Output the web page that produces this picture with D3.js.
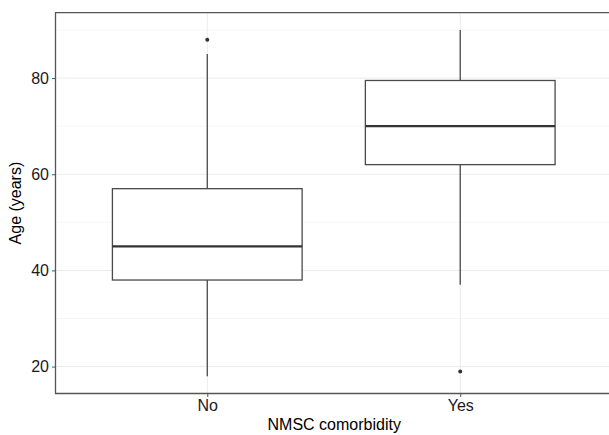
<!DOCTYPE html>
<html>
<head>
<meta charset="utf-8">
<script src="https://cdn.jsdelivr.net/npm/d3@7"></script>
<style>
  body { margin: 0; background: #fff; overflow: hidden; }
  text { font-family: "Liberation Sans", Arial, Helvetica, sans-serif; }
</style>
</head>
<body>
<svg id="chart" width="609" height="435"></svg>
<script>
/************************************ Data *******************************/
var groups = ["No", "Yes"];
var lowerWhisker = [18, 37];
var q1 = [38, 62];
var median = [45, 70];
var q3 = [57, 79.5];
var upperWhisker = [85, 90];
var outliers = [[88], [19]];
var yTicks = [20, 40, 60, 80];
var yMinor = [30, 50, 70, 90];

/************************************ Layout *******************************/
var panel = { left: 55.5, top: 12.7, right: 612, bottom: 393.5 };
var ink = "#4a4a4a";

var svg = d3.select("#chart");

var x = d3.scalePoint()
	.domain(groups)
	.range([panel.left, panel.right])
	.padding(0.6);

var y = d3.scaleLinear()
	.domain([14.4, 93.6])
	.range([panel.bottom, panel.top]);

var boxW = x.step() * 0.75;

// grid
var grid = svg.append("g");
grid.selectAll(".minor").data(yMinor).enter().append("line")
	.attr("x1", panel.left).attr("x2", panel.right)
	.attr("y1", function(d){ return y(d); }).attr("y2", function(d){ return y(d); })
	.attr("stroke", "#f4f4f4").attr("stroke-width", 0.8);
grid.selectAll(".major").data(yTicks).enter().append("line")
	.attr("x1", panel.left).attr("x2", panel.right)
	.attr("y1", function(d){ return y(d); }).attr("y2", function(d){ return y(d); })
	.attr("stroke", "#ebebeb").attr("stroke-width", 1);
grid.selectAll(".vmajor").data(groups).enter().append("line")
	.attr("y1", panel.top).attr("y2", panel.bottom)
	.attr("x1", function(d){ return x(d); }).attr("x2", function(d){ return x(d); })
	.attr("stroke", "#ebebeb").attr("stroke-width", 1);

/************************************ Boxes *******************************/
var boxes = svg.append("g").selectAll("g").data(groups).enter().append("g");

boxes.append("line")
	.attr("x1", function(d){ return x(d); }).attr("x2", function(d){ return x(d); })
	.attr("y1", function(d, i){ return y(upperWhisker[i]); })
	.attr("y2", function(d, i){ return y(q3[i]); })
	.attr("stroke", ink).attr("stroke-width", 1.3);
boxes.append("line")
	.attr("x1", function(d){ return x(d); }).attr("x2", function(d){ return x(d); })
	.attr("y1", function(d, i){ return y(q1[i]); })
	.attr("y2", function(d, i){ return y(lowerWhisker[i]); })
	.attr("stroke", ink).attr("stroke-width", 1.3);
boxes.append("rect")
	.attr("x", function(d){ return x(d) - boxW / 2; })
	.attr("width", boxW)
	.attr("y", function(d, i){ return y(q3[i]); })
	.attr("height", function(d, i){ return y(q1[i]) - y(q3[i]); })
	.attr("fill", "#fff").attr("stroke", ink).attr("stroke-width", 1.3);
boxes.append("line")
	.attr("x1", function(d){ return x(d) - boxW / 2; })
	.attr("x2", function(d){ return x(d) + boxW / 2; })
	.attr("y1", function(d, i){ return y(median[i]); })
	.attr("y2", function(d, i){ return y(median[i]); })
	.attr("stroke", "#333").attr("stroke-width", 2.2);
boxes.each(function(d, i){
	d3.select(this).selectAll("circle").data(outliers[i]).enter().append("circle")
		.attr("cx", x(d)).attr("cy", function(v){ return y(v); })
		.attr("r", 2).attr("fill", "#333");
});

/************************************ Axes *******************************/
// panel border: left, top, bottom (right edge falls outside the picture)
svg.append("path")
	.attr("d", "M" + (panel.right + 5) + "," + panel.top + "H" + panel.left + "V" + panel.bottom + "H" + (panel.right + 5))
	.attr("fill", "none").attr("stroke", "#555").attr("stroke-width", 1.3);

var yAxis = svg.append("g")
	.attr("transform", "translate(" + panel.left + ",0)")
	.call(d3.axisLeft(y).tickValues(yTicks).tickSize(3.5).tickPadding(3).tickFormat(d3.format("d")));
yAxis.select(".domain").remove();
yAxis.selectAll("line").attr("stroke", "#555");
yAxis.selectAll("text").attr("fill", "#1a1a1a").style("font-size", "16px");

var xAxis = svg.append("g")
	.attr("transform", "translate(0," + panel.bottom + ")")
	.call(d3.axisBottom(x).tickSize(3.5).tickPadding(3));
xAxis.select(".domain").remove();
xAxis.selectAll("line").attr("stroke", "#555");
xAxis.selectAll("text").attr("fill", "#1a1a1a").style("font-size", "16px");

svg.append("text")
	.attr("x", (panel.left + 609) / 2 + 2).attr("y", 430)
	.attr("text-anchor", "middle").style("font-size", "16px").attr("fill", "#000")
	.text("NMSC comorbidity");

svg.append("text")
	.attr("transform", "translate(21," + ((panel.top + panel.bottom) / 2) + ") rotate(-90)")
	.attr("text-anchor", "middle").style("font-size", "16px").attr("fill", "#000")
	.text("Age (years)");
</script>
</body>
</html>
